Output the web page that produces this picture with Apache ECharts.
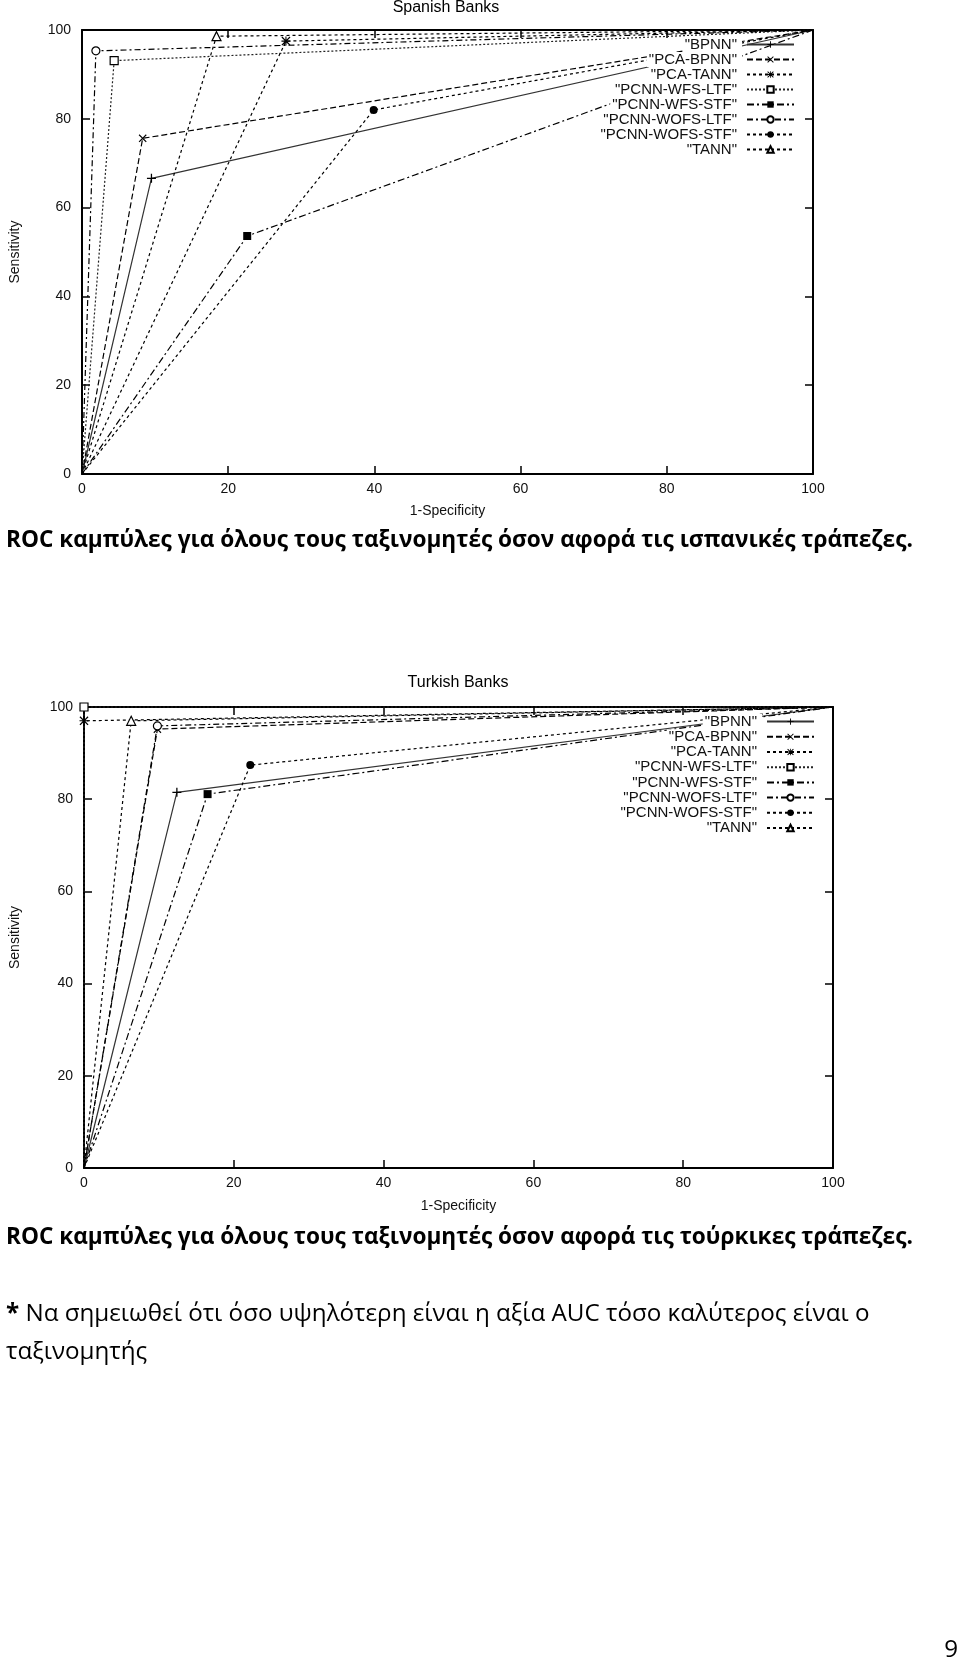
<!DOCTYPE html>
<html><head><meta charset="utf-8">
<script src="https://cdn.jsdelivr.net/npm/echarts@6/dist/echarts.min.js"></script>
<style>html,body{margin:0;padding:0;background:#fff}#c{width:960px;height:1659px}</style>
</head><body><div id="c"></div>
<script>
// ---------------- data ----------------
const classifiers = ["BPNN","PCA-BPNN","PCA-TANN","PCNN-WFS-LTF","PCNN-WFS-STF","PCNN-WOFS-LTF","PCNN-WOFS-STF","TANN"];
const spanishFpr = [9.5, 8.3, 27.9, 4.4, 22.6, 1.9, 39.9, 18.4];
const spanishTpr = [66.6, 75.6, 97.5, 93.1, 53.6, 95.3, 82.0, 98.6];
const turkishFpr = [12.4, 9.8, 0, 0, 16.5, 9.8, 22.2, 6.3];
const turkishTpr = [81.5, 95.2, 97.0, 100, 81.1, 95.9, 87.4, 97.0];
const rocStart = [0, 0];
const rocEnd = [100, 100];
const axisMin = 0, axisMax = 100, axisStep = 20;

const chartTitles = ["Spanish Banks", "Turkish Banks"];
const xName = "1-Specificity";
const yName = "Sensitivity";
const caption1 = "ROC καμπύλες για όλους τους ταξινομητές όσον αφορά τις ισπανικές τράπεζες.";
const caption2 = "ROC καμπύλες για όλους τους ταξινομητές όσον αφορά τις τούρκικες τράπεζες.";
const noteStar = "*";
const note1 = " Να σημειωθεί ότι όσο υψηλότερη είναι η αξία AUC τόσο καλύτερος είναι ο";
const note2 = "ταξινομητής";
const pageNo = "9";

// ---------------- styles ----------------
const PLUS = 'path://M4.3,0H5.7V4.3H10V5.7H5.7V10H4.3V5.7H0V4.3H4.3Z';
const CROSS = 'path://M1,0L5,4L9,0L10,1L6,5L10,9L9,10L5,6L1,10L0,9L4,5L0,1Z';
const STAR = 'path://M4.4,0H5.6V10H4.4Z M0,4.4H10V5.6H0Z M1,0L5,4L9,0L10,1L6,5L10,9L9,10L5,6L1,10L0,9L4,5L0,1Z';
const seriesStyle = {
  "BPNN":          {symbol: PLUS, size: 9, type: 'solid', lc: '#333', fill: '#000'},
  "PCA-BPNN":      {symbol: CROSS, size: 8, type: [6, 3], lc: '#000', fill: '#000'},
  "PCA-TANN":      {symbol: STAR, size: 9, type: [3, 3], lc: '#000', fill: '#000'},
  "PCNN-WFS-LTF":  {symbol: 'rect', size: 8, type: [2, 2], lc: '#222', fill: '#fff', border: '#000'},
  "PCNN-WFS-STF":  {symbol: 'rect', size: 8, type: [7, 3, 2, 3], lc: '#000', fill: '#000'},
  "PCNN-WOFS-LTF": {symbol: 'circle', size: 8, type: [6, 3, 2, 3], lc: '#000', fill: '#fff', border: '#000'},
  "PCNN-WOFS-STF": {symbol: 'circle', size: 8, type: [3, 3], lc: '#000', fill: '#000'},
  "TANN":          {symbol: 'triangle', size: 9, type: [3, 3], lc: '#000', fill: '#fff', border: '#000'}
};

const FONT = '"Liberation Sans", Arial, sans-serif';
const CAPFONT = '"Open Sans", "Noto Sans", sans-serif';

function fitSize(text, weight, family, target) {
  const ctx = document.createElement('canvas').getContext('2d');
  ctx.font = weight + ' 100px ' + family;
  return 100 * target / ctx.measureText(text).width;
}

function buildSeries(fpr, tpr, xi, yi) {
  return classifiers.map((name, i) => {
    const s = seriesStyle[name];
    return {
      type: 'line', name, xAxisIndex: xi, yAxisIndex: yi, clip: false,
      symbol: s.symbol, symbolSize: s.size,
      itemStyle: {color: s.fill, borderColor: s.border || s.fill, borderWidth: s.border ? 1.2 : 0, opacity: 1},
      lineStyle: {color: s.lc, width: 1.2, type: s.type},
      emphasis: {disabled: true},
      animation: false,
      data: [
        {value: rocStart, symbol: 'none'},
        {value: [fpr[i], tpr[i]]},
        {value: rocEnd, symbol: 'none'}
      ]
    };
  });
}

function xAxes(gridIndex, nameGap) {
  const common = {type: 'value', gridIndex, min: axisMin, max: axisMax, interval: axisStep,
    splitLine: {show: false},
    axisLine: {show: true, onZero: false, lineStyle: {color: '#000', width: 2}},
    axisTick: {inside: true, length: 8, lineStyle: {color: '#000', width: 1.5}}};
  return [
    Object.assign({}, common, {position: 'bottom',
      axisLabel: {margin: 8, fontSize: 14, fontFamily: FONT, color: '#111'},
      name: xName, nameLocation: 'middle', nameGap,
      nameTextStyle: {fontSize: 14, fontFamily: FONT, color: '#111'}}),
    Object.assign({}, common, {position: 'top', axisLabel: {show: false}})
  ];
}
function yAxes(gridIndex, nameGap) {
  const common = {type: 'value', gridIndex, min: axisMin, max: axisMax, interval: axisStep,
    splitLine: {show: false},
    axisLine: {show: true, onZero: false, lineStyle: {color: '#000', width: 2}},
    axisTick: {inside: true, length: 8, lineStyle: {color: '#000', width: 1.5}}};
  return [
    Object.assign({}, common, {position: 'left',
      axisLabel: {margin: 11, fontSize: 14, fontFamily: FONT, color: '#111'},
      name: yName, nameLocation: 'middle', nameGap, nameRotate: 90,
      nameTextStyle: {fontSize: 14, fontFamily: FONT, color: '#111'}}),
    Object.assign({}, common, {position: 'right', axisLabel: {show: false}})
  ];
}

function legend(right, top, lh) {
  return {
    data: classifiers, orient: 'vertical', align: 'right', right, top, padding: 0,
    itemWidth: 47, itemHeight: 8, itemGap: 0, selectedMode: false,
    formatter: n => '"' + n + '"',
    textStyle: {fontSize: 15, fontFamily: FONT, color: '#111', lineHeight: lh,
      backgroundColor: '#fff', padding: [0, 5, 0, 2]}
  };
}

const capSize = fitSize(caption1, 'bold', CAPFONT, 907);
const noteSize = fitSize(noteStar + note1, 'normal', CAPFONT, 864);

function txt(text, x, y, font, align) {
  return {type: 'text', x, y, silent: true,
    style: {text, font, fill: '#000', align: align || 'left', verticalAlign: 'middle',
      textAlign: align || 'left', textVerticalAlign: 'middle'}};
}
function richNote(x, y) {
  return {type: 'text', x, y, silent: true,
    style: {text: '{b|' + noteStar + '}{r|' + note1 + '}', verticalAlign: 'middle', textVerticalAlign: 'middle',
      rich: {b: {fontWeight: 'bold', fontSize: noteSize, fontFamily: CAPFONT, fill: '#000', color: '#000'},
             r: {fontSize: noteSize, fontFamily: CAPFONT, fill: '#000', color: '#000'}}}};
}

const chart = echarts.init(document.getElementById('c'), null, {renderer: 'canvas'});
chart.setOption({
  backgroundColor: '#fff',
  animation: false,
  grid: [
    {left: 82, top: 30, width: 731, height: 444},
    {left: 84, top: 707, width: 749, height: 461}
  ],
  xAxis: [...xAxes(0, 30), ...xAxes(1, 31)],
  yAxis: [...yAxes(0, 60), ...yAxes(1, 62)],
  legend: [legend(165, 37, 15), legend(145, 714, 15.2)],
  series: [...buildSeries(spanishFpr, spanishTpr, 0, 0), ...buildSeries(turkishFpr, turkishTpr, 2, 2)],
  graphic: [
    txt(chartTitles[0], 446, 8, '16px ' + FONT, 'center'),
    txt(chartTitles[1], 458, 683, '16px ' + FONT, 'center'),
    txt(caption1, 6, 541, 'bold ' + capSize.toFixed(2) + 'px ' + CAPFONT),
    txt(caption2, 6, 1238, 'bold ' + capSize.toFixed(2) + 'px ' + CAPFONT),
    richNote(6, 1314),
    txt(note2, 6, 1352, noteSize.toFixed(2) + 'px ' + CAPFONT),
    txt(pageNo, 958, 1650, noteSize.toFixed(2) + 'px ' + CAPFONT, 'right')
  ]
});
</script></body></html>
